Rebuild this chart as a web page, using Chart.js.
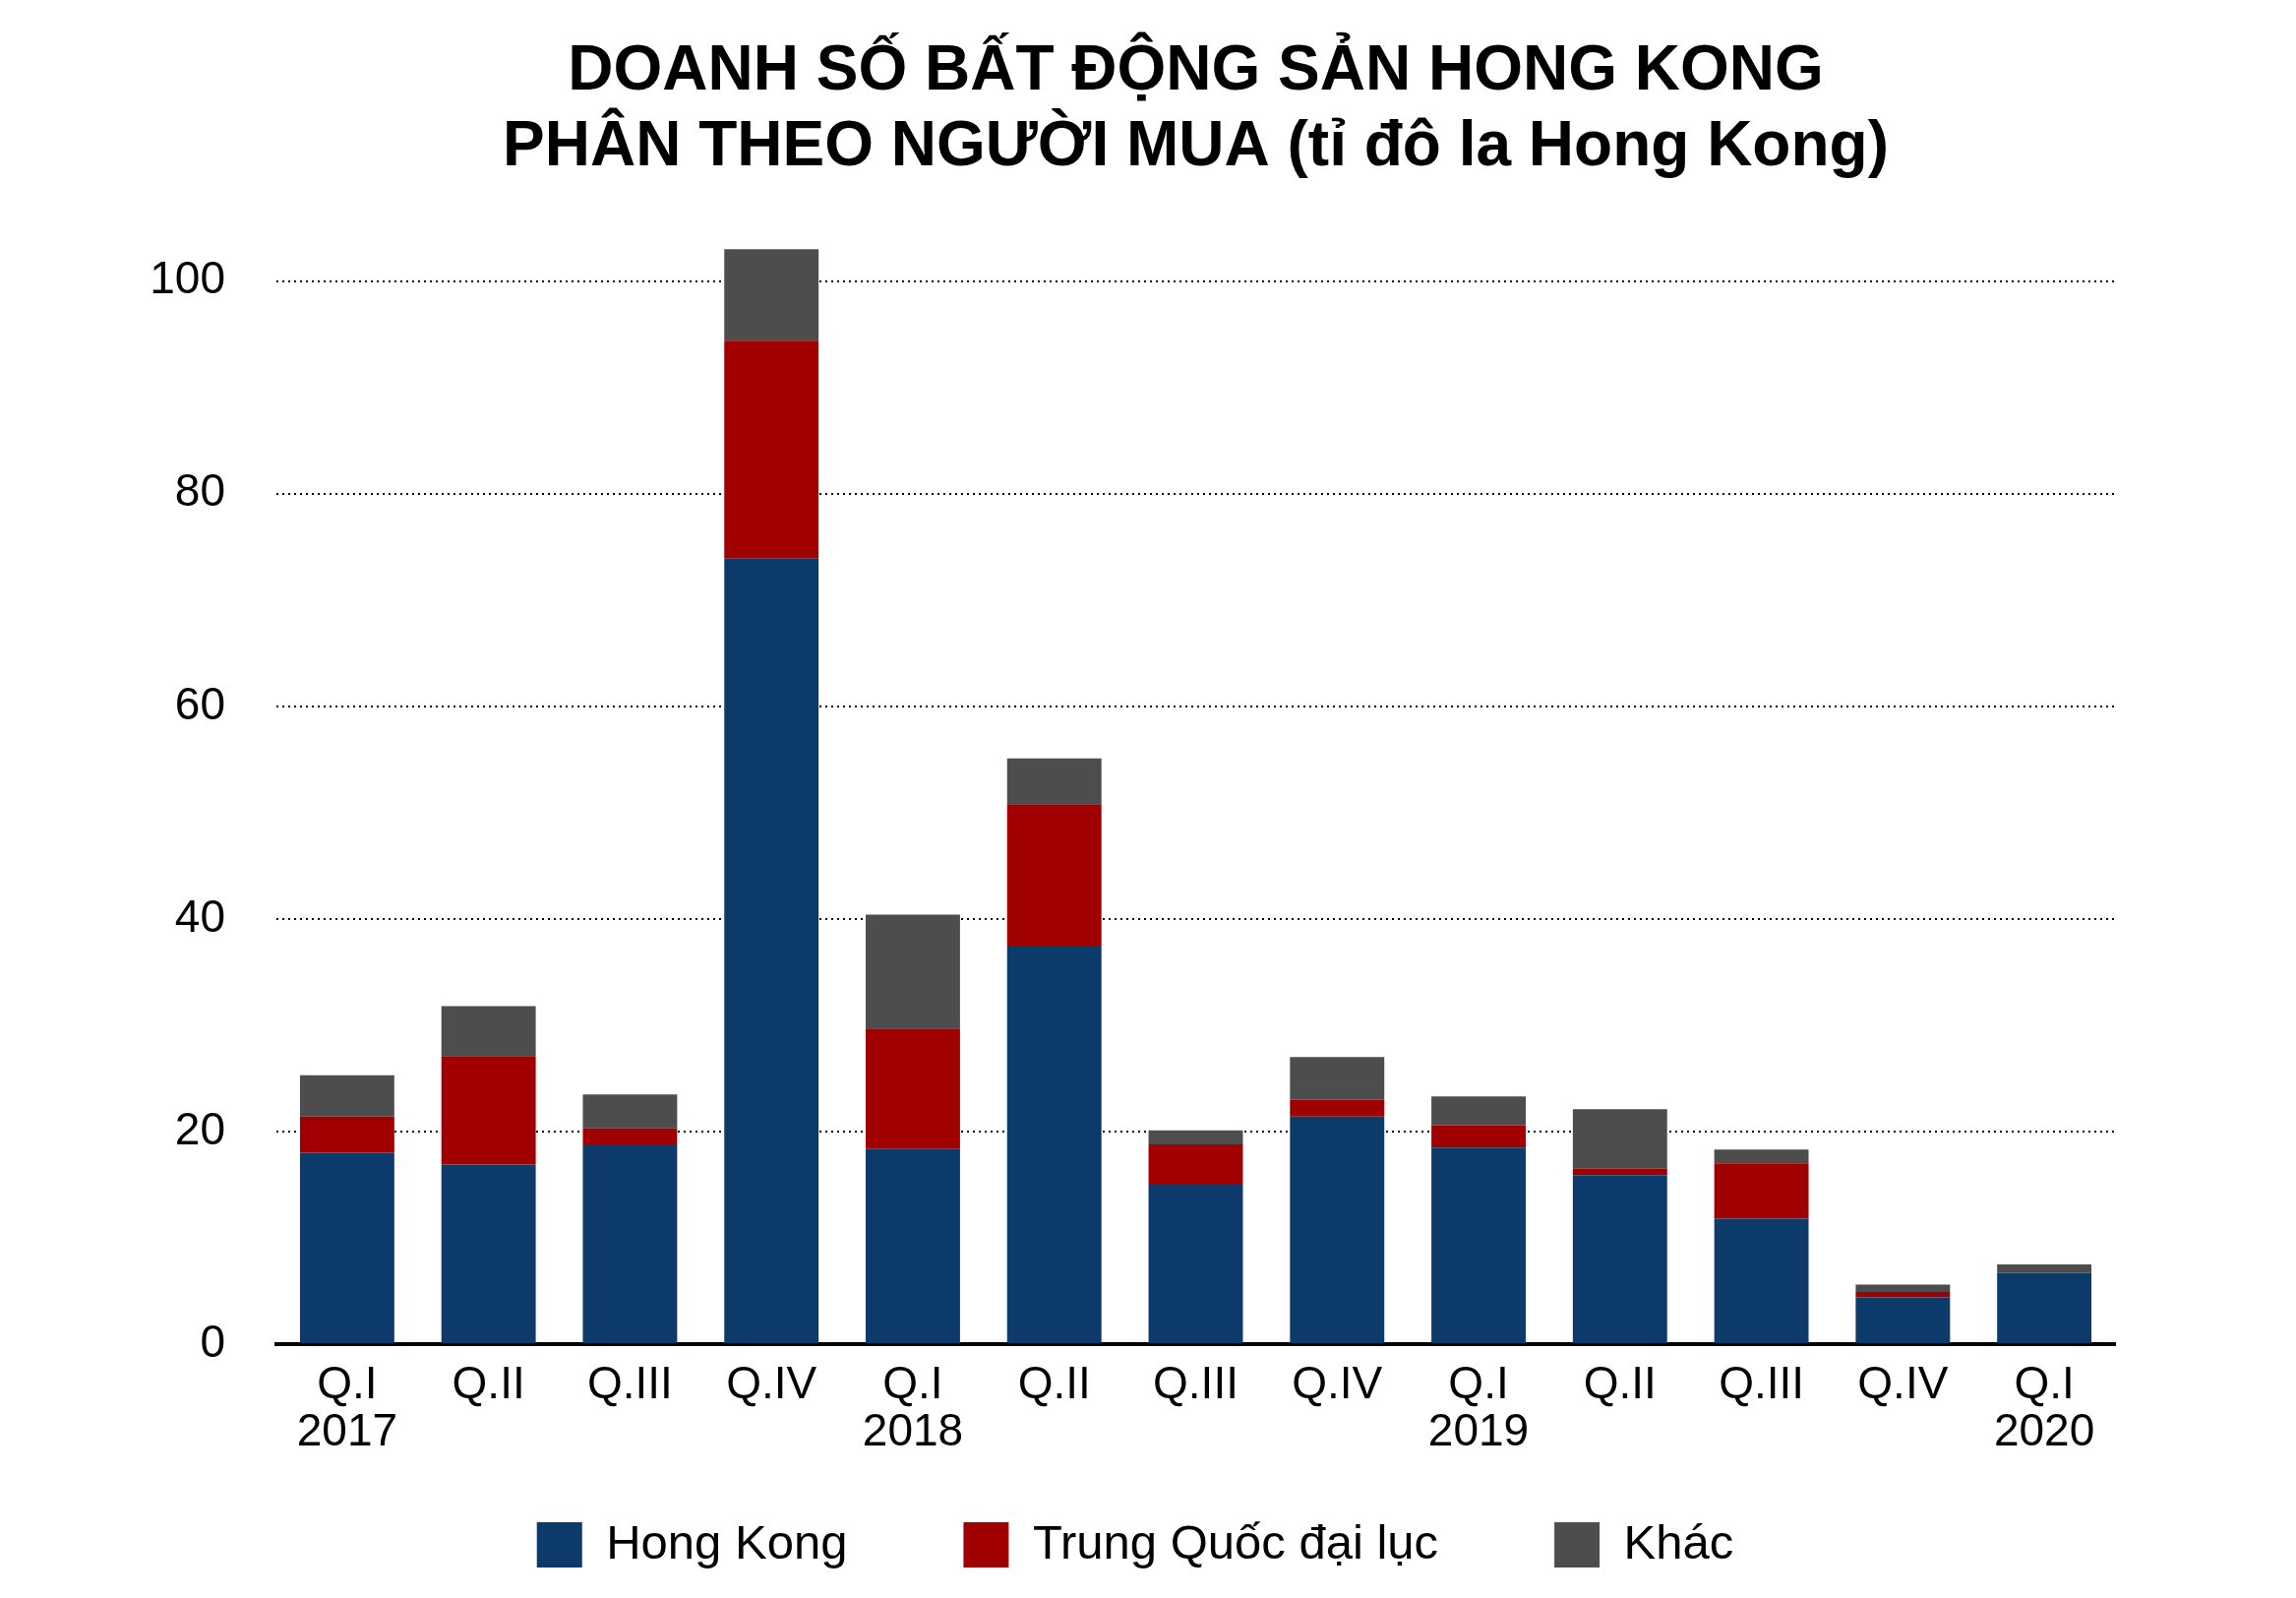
<!DOCTYPE html>
<html lang="vi">
<head>
<meta charset="utf-8">
<title>Doanh số bất động sản Hong Kong</title>
<script src="https://cdn.jsdelivr.net/npm/chart.js@4.4.1/dist/chart.umd.min.js"></script>
<style>
    html, body { margin: 0; padding: 0; background: #fff; }
    #wrap { width: 2334px; height: 1624px; position: relative; }
</style>
</head>
<body>
<div id="wrap"><canvas id="salesChart"></canvas></div>
<script>
// Data (tỉ đô la Hong Kong)
const categories = [
    ['Q.I', '2017'], 'Q.II', 'Q.III', 'Q.IV',
    ['Q.I', '2018'], 'Q.II', 'Q.III', 'Q.IV',
    ['Q.I', '2019'], 'Q.II', 'Q.III', 'Q.IV',
    ['Q.I', '2020']
];
const hongKong = [18.0, 16.9, 18.7, 73.9, 18.4, 37.4, 15.1, 21.4, 18.5, 15.9, 11.8, 4.4, 6.7];
const mainland = [3.4, 10.2, 1.6, 20.5, 11.3, 13.4, 3.7, 1.6, 2.1, 0.6, 5.2, 0.5, 0];
const other    = [3.9, 4.7, 3.2, 8.6, 10.7, 4.3, 1.3, 4.0, 2.7, 5.6, 1.3, 0.7, 0.8];
const yTicks   = [0, 20, 40, 60, 80, 100];

const titleLines = ['DOANH SỐ BẤT ĐỘNG SẢN HONG KONG', 'PHÂN THEO NGƯỜI MUA (tỉ đô la Hong Kong)'];

// Colours
const BLUE = '#0C3B6B';
const RED = '#A00000';
const GREY = '#4D4D4D';

Chart.defaults.font.family = '"Liberation Sans", Arial, Helvetica, sans-serif';
Chart.defaults.color = '#000';

// The legend keeps wide gaps between items, so the x axis is fitted short;
// give its two-line labels room again and centre the legend on the page.
const layoutFix = {
    id: 'layoutFix',
    afterLayout(chart) {
        chart.scales.x.bottom = chart.legend.bottom;
        chart.legend.left = 0;
        chart.legend.right = chart.width - 26;
    }
};

const ctx = document.getElementById('salesChart').getContext('2d');
const salesChart = new Chart(ctx, {
    type: 'bar',
    data: {
        labels: categories,
        datasets: [
            { label: 'Hong Kong', data: hongKong, backgroundColor: BLUE },
            { label: 'Trung Quốc đại lục', data: mainland, backgroundColor: RED },
            { label: 'Khác', data: other, backgroundColor: GREY }
        ]
    },
    options: {
        responsive: true,
        maintainAspectRatio: false,
        animation: false,
        datasets: {
            bar: { categoryPercentage: 0.667, barPercentage: 1, borderWidth: 0 }
        },
        layout: {
            padding: { left: 0, right: 184, top: 0, bottom: 19.5 }
        },
        scales: {
            x: {
                stacked: true,
                grid: { display: false, drawTicks: false },
                border: { display: true, color: '#000', width: 4 },
                ticks: {
                    padding: 18,
                    maxRotation: 0,
                    autoSkip: false,
                    font: { size: 46, lineHeight: 1.054 }
                },
                afterFit: (scale) => { scale.height = 61.5; }
            },
            y: {
                stacked: true,
                min: 0,
                max: 105,
                bounds: 'data',
                grid: { color: '#000', lineWidth: 2, drawTicks: false },
                border: { display: false, dash: [2, 4] },
                afterBuildTicks: (scale) => {
                    scale.ticks = yTicks.map(v => ({ value: v }));
                },
                ticks: {
                    padding: 52,
                    font: { size: 46 }
                },
                afterFit: (scale) => { scale.width = 281; }
            }
        },
        plugins: {
            title: {
                display: true,
                text: titleLines,
                fullSize: false,
                color: '#000',
                font: { size: 64, weight: 'bold', lineHeight: 1.2 },
                padding: { top: 35, bottom: 43.1 }
            },
            legend: {
                position: 'bottom',
                labels: {
                    boxWidth: 46,
                    boxHeight: 46,
                    padding: 118,
                    color: '#000',
                    font: { size: 49 }
                }
            },
            tooltip: { enabled: false }
        }
    },
    plugins: [layoutFix]
});
</script>
</body>
</html>
